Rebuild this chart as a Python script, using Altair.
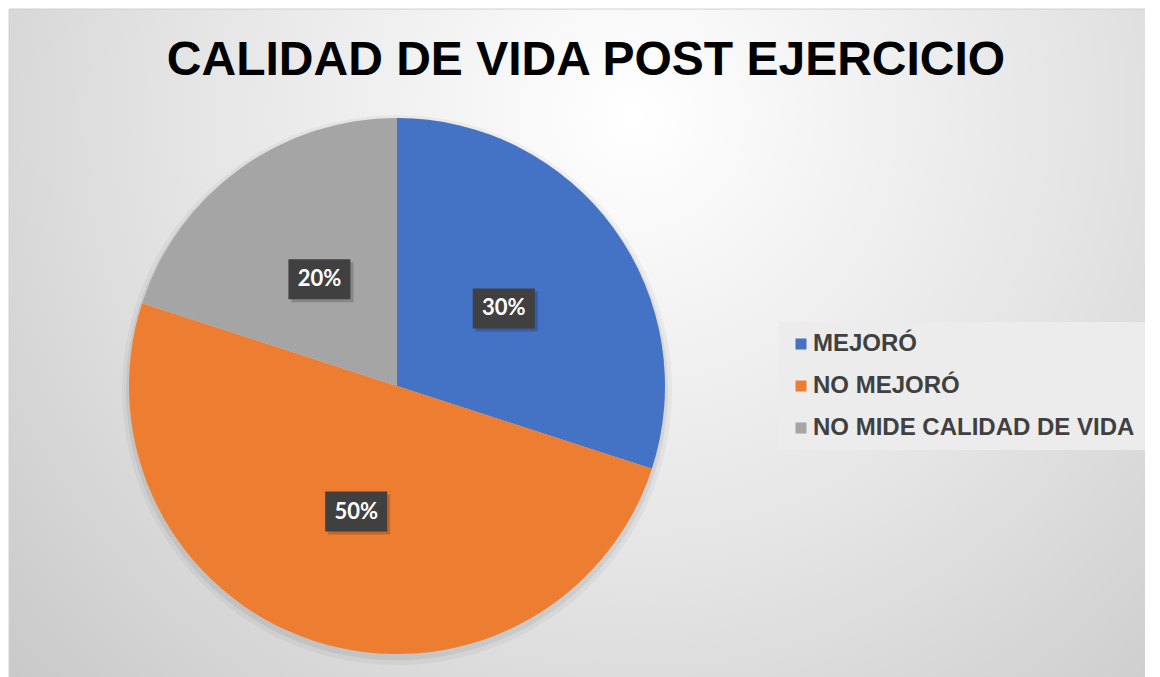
import altair as alt
import pandas as pd

categories = ["MEJORÓ", "NO MEJORÓ", "NO MIDE CALIDAD DE VIDA"]
values = [30, 50, 20]
labels = ["30%", "50%", "20%"]
title_text = ["CALIDAD DE VIDA POST EJERCICIO"]

colors = ["#4472C4", "#ED7D31", "#A5A5A5"]

W, H = 1137, 669
CX, CY, R = 388, 377, 268
LR = 132

df = pd.DataFrame({"cat": categories, "value": values, "label": labels,
                   "idx": list(range(len(categories)))})

base = alt.Chart(df)

bg_grad = alt.RadialGradient(
    gradient="radial", x1=0.55, y1=0.3, r1=0, x2=0.55, y2=0.3, r2=0.8,
    stops=[alt.GradientStop(offset=0, color="#ffffff"),
           alt.GradientStop(offset=0.5, color="#e4e4e4"),
           alt.GradientStop(offset=1, color="#c4c4c4")],
)
bg = alt.Chart(pd.DataFrame({"k": [0]})).mark_rect(
    color=bg_grad, stroke="#d0d0d0", strokeWidth=1
).encode(x=alt.value(0), x2=alt.value(W), y=alt.value(0), y2=alt.value(H))

color_enc = alt.Color(
    "cat:N",
    sort=categories,
    scale=alt.Scale(domain=categories, range=colors),
    legend=alt.Legend(
        orient="none", legendX=770, legendY=313, title=None,
        symbolType="square", symbolSize=121, symbolStrokeWidth=0,
        labelFontSize=24, labelFont="Liberation Sans", labelFontWeight="bold",
        labelColor="#404040", rowPadding=18, padding=10,
        fillColor="#ececec", labelOffset=0, labelLimit=600,
    ),
)

shadow1 = base.mark_arc(radius=R + 7, color="#000000", opacity=0.04).encode(
    theta=alt.Theta("value:Q", stack=True),
    order=alt.Order("idx:Q"),
    x=alt.value(CX), y=alt.value(CY + 4),
)
shadow2 = base.mark_arc(radius=R + 3, color="#000000", opacity=0.06).encode(
    theta=alt.Theta("value:Q", stack=True),
    order=alt.Order("idx:Q"),
    x=alt.value(CX), y=alt.value(CY + 3),
)

pie = base.mark_arc(radius=R, strokeWidth=0).encode(
    theta=alt.Theta("value:Q", stack=True),
    order=alt.Order("idx:Q"),
    color=color_enc,
    x=alt.value(CX), y=alt.value(CY),
)

pos = (
    base.transform_window(cum="sum(value)", sort=[alt.SortField("idx")], frame=[None, 0])
    .transform_joinaggregate(total="sum(value)")
    .transform_calculate(ang="2*PI*(datum.cum - datum.value/2)/datum.total")
    .transform_calculate(px=f"{CX} + {LR}*sin(datum.ang)", py=f"{CY} - {LR}*cos(datum.ang)")
    .transform_calculate(bx1="datum.px - 31", bx2="datum.px + 31",
                         by1="datum.py - 20", by2="datum.py + 20",
                         sx1="datum.px - 28", sx2="datum.px + 34",
                         sy1="datum.py - 17", sy2="datum.py + 23")
)

box_shadow = pos.mark_rect(color="#000000", opacity=0.18).encode(
    x=alt.X("sx1:Q", scale=None, axis=None), x2="sx2:Q",
    y=alt.Y("sy1:Q", scale=None, axis=None), y2="sy2:Q",
)
box = pos.mark_rect(color="#404040").encode(
    x=alt.X("bx1:Q", scale=None, axis=None), x2="bx2:Q",
    y=alt.Y("by1:Q", scale=None, axis=None), y2="by2:Q",
)
txt = pos.mark_text(font="Lato", fontSize=22, fontWeight="bold", color="#ffffff",
                    align="center", baseline="middle").encode(
    x=alt.X("px:Q", scale=None, axis=None),
    y=alt.Y("py:Q", scale=None, axis=None),
    text="label:N",
)

title = alt.Chart(pd.DataFrame({"t": title_text})).mark_text(
    font="Liberation Sans", fontSize=48, fontWeight="bold", color="#000000",
    align="center", baseline="alphabetic",
).encode(x=alt.value(577), y=alt.value(66), text="t:N")

chart = alt.layer(bg, shadow1, shadow2, pie, box_shadow, box, txt, title).properties(
    width=W, height=H, padding=0,
    autosize=alt.AutoSizeParams(type="fit", contains="padding"),
).configure_view(stroke=None)

chart.save("out.html", embed_options={"renderer": "svg", "actions": False})
